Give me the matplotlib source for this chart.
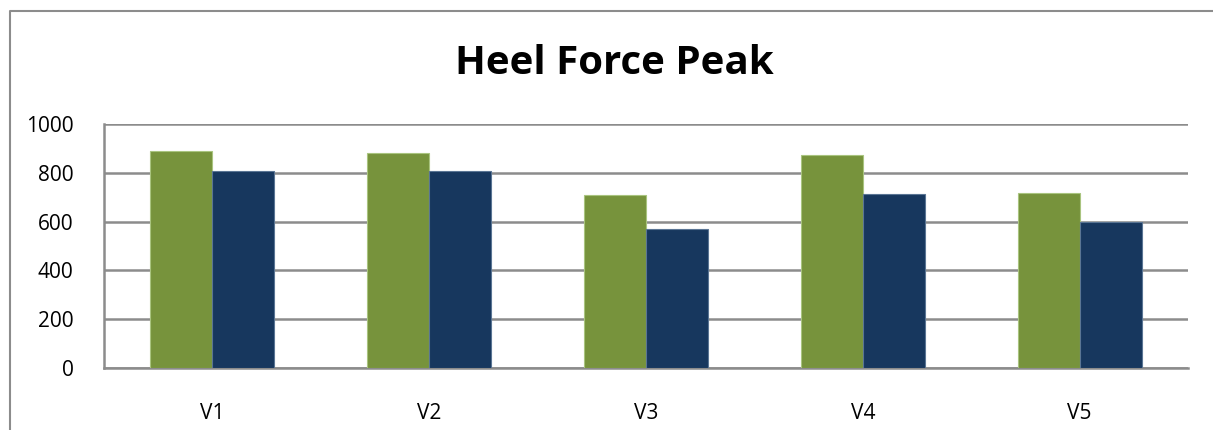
import matplotlib
matplotlib.use("Agg")
import matplotlib.pyplot as plt
import numpy as np

categories = ["V1", "V2", "V3", "V4", "V5"]
series_a = [889, 880, 709, 871, 719]
series_b = [809, 809, 570, 715, 600]
yticks = [0, 200, 400, 600, 800, 1000]
title = "Heel Force Peak"

W, H = 1213, 430
fig = plt.figure(figsize=(W / 100, H / 100), dpi=100)
plt.rcParams['font.family'] = ['Open Sans', 'DejaVu Sans']

# outer chart border
border = plt.Line2D([10 / W, 10 / W, 1.0], [0, 1 - 11 / H, 1 - 11 / H],
                    transform=fig.transFigure, color="#8c8c8c", lw=1.5)
fig.add_artist(border)

ax = fig.add_axes([104 / W, 1 - 368 / H, (1188 - 104) / W, (368 - 124) / H])
x = np.arange(len(categories))
bw = 0.286
ax.bar(x - bw / 2, series_a, bw, color="#77933C", edgecolor="#a9c47f", linewidth=0.8, zorder=3)
ax.bar(x + bw / 2, series_b, bw, color="#17375E", edgecolor="#5a7594", linewidth=0.8, zorder=3)

ax.set_xlim(-0.5, len(categories) - 0.5)
ax.set_ylim(0, 1000)
ax.set_yticks(yticks)
ax.set_yticklabels([str(v) for v in yticks], fontsize=15)
ax.set_xticks(x)
ax.set_xticklabels(categories, fontsize=15)
ax.tick_params(length=0)
ax.tick_params(axis='y', pad=22)
ax.tick_params(axis='x', pad=25)
ax.yaxis.grid(True, color="#8c8c8c", lw=1.8, zorder=0)
for s in ["top", "right"]:
    ax.spines[s].set_visible(False)
for s in ["left", "bottom"]:
    ax.spines[s].set_color("#8c8c8c")
    ax.spines[s].set_linewidth(1.8)

fig.text(614 / W, 1 - 63 / H, title, ha="center", va="center",
         fontsize=29, fontweight="bold")

fig.savefig("out.png", dpi=100)
